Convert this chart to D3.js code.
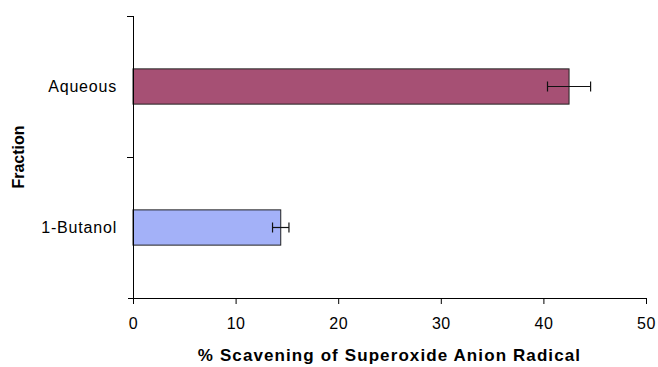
<!DOCTYPE html>
<html>
<head>
<meta charset="utf-8">
<script src="https://cdn.jsdelivr.net/npm/d3@7"></script>
<style>
  html, body { margin: 0; padding: 0; background: #fff; }
  svg { display: block; font-family: "Liberation Sans", Arial, sans-serif; }
</style>
</head>
<body>
<svg id="chart" width="658" height="367"></svg>
<script>
// Fractions, listed top to bottom
const categories = ["Aqueous", "1-Butanol"];
const scavenging = [42.5, 14.4];   // % scavenging, bar length
const errors = [2.1, 0.8];         // error bar half-width
const colors = ["#A65074", "#A3B1F8"];
const xTicks = [0, 10, 20, 30, 40, 50];

const svg = d3.select("#chart");
const plot = { left: 133, right: 646, top: 16, bottom: 298 };

const x = d3.scaleLinear().domain([0, 50]).range([plot.left, plot.right]);
const y = d3.scaleBand().domain(categories).range([plot.top, plot.bottom]).padding(0);
const barH = y.bandwidth() * 0.25;

// Bars
svg.append("g").selectAll("rect")
  .data(categories)
  .join("rect")
  .attr("x", x(0))
  .attr("y", d => y(d) + y.bandwidth() / 2 - barH / 2)
  .attr("width", (d, i) => x(scavenging[i]) - x(0))
  .attr("height", barH)
  .attr("fill", (d, i) => colors[i])
  .attr("stroke", "#222")
  .attr("stroke-width", 1);

// Error bars
const eg = svg.append("g").attr("stroke", "#111").attr("stroke-width", 1.2);
categories.forEach((c, i) => {
  const cy = y(c) + y.bandwidth() / 2;
  const x0 = x(scavenging[i] - errors[i]);
  const x1 = x(scavenging[i] + errors[i]);
  eg.append("line").attr("x1", x0).attr("x2", x1).attr("y1", cy).attr("y2", cy);
  eg.append("line").attr("x1", x0).attr("x2", x0).attr("y1", cy - 5).attr("y2", cy + 5);
  eg.append("line").attr("x1", x1).attr("x2", x1).attr("y1", cy - 5).attr("y2", cy + 5);
});

// X axis
const xAxis = svg.append("g")
  .attr("transform", `translate(0,${plot.bottom})`)
  .call(d3.axisBottom(x).tickValues(xTicks).tickSize(6).tickPadding(14).tickSizeOuter(0));
xAxis.select(".domain").attr("stroke", "#000").attr("d", `M${plot.left - 5},0.5H${plot.right}`);
xAxis.selectAll(".tick line").attr("stroke", "#000");
xAxis.selectAll(".tick text").attr("font-size", 16).attr("fill", "#000")
  .attr("letter-spacing", "0.5px")
  .attr("font-family", "Liberation Sans, Arial, sans-serif");

// Y axis: category separators as ticks
const yAxis = svg.append("g").attr("transform", `translate(${plot.left},0)`);
yAxis.append("line")
  .attr("x1", 0.5).attr("x2", 0.5).attr("y1", plot.top).attr("y2", plot.bottom + 6)
  .attr("stroke", "#000");
const bounds = [plot.top, ...categories.slice(1).map(c => y(c))];
yAxis.selectAll("line.sep").data(bounds).join("line").attr("class", "sep")
  .attr("x1", -6).attr("x2", 0.5)
  .attr("y1", d => Math.round(d) + 0.5).attr("y2", d => Math.round(d) + 0.5)
  .attr("stroke", "#000");
yAxis.selectAll("text").data(categories).join("text")
  .attr("x", -16)
  .attr("y", d => y(d) + y.bandwidth() / 2)
  .attr("dy", "0.35em")
  .attr("text-anchor", "end")
  .attr("font-size", 16)
  .attr("letter-spacing", "0.8px")
  .attr("fill", "#000")
  .text(d => d);

// Axis titles
svg.append("text")
  .attr("x", (plot.left + plot.right) / 2)
  .attr("y", 361)
  .attr("text-anchor", "middle")
  .attr("font-size", 17)
  .attr("font-weight", "bold")
  .attr("letter-spacing", "1.1px")
  .attr("fill", "#000")
  .text("% Scavening of Superoxide Anion Radical");

svg.append("text")
  .attr("transform", `translate(24,${(plot.top + plot.bottom) / 2}) rotate(-90)`)
  .attr("text-anchor", "middle")
  .attr("font-size", 16)
  .attr("font-weight", "bold")
  .attr("fill", "#000")
  .text("Fraction");
</script>
</body>
</html>
